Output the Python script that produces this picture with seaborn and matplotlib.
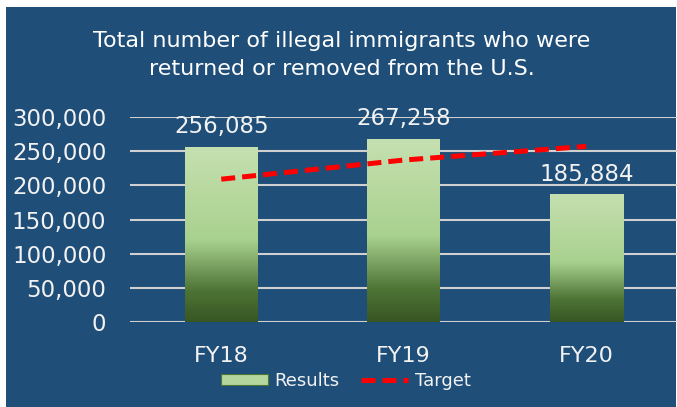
import numpy as np
import pandas as pd
import matplotlib
matplotlib.use('Agg')
import matplotlib.pyplot as plt
import seaborn as sns
from matplotlib.colors import LinearSegmentedColormap
from matplotlib.patches import Rectangle
from matplotlib.lines import Line2D
from matplotlib.ticker import FuncFormatter

# ---- data ----
categories = ['FY18', 'FY19', 'FY20']
results = [256085, 267258, 185884]
target = [209000, 237000, 257000]
y_ticks = [0, 50000, 100000, 150000, 200000, 250000, 300000]
title_text = "Total number of illegal immigrants who were\nreturned or removed from the U.S."

BG = '#1F4E79'
TXT = '#F2F2F2'
GRID = '#D0D0D0'

sns.set_theme(style='white')
plt.rcParams['font.family'] = ['DejaVu Sans']

W, H = 677, 407
fig = plt.figure(figsize=(W / 100, H / 100), dpi=100)
fig.patch.set_facecolor('white')
fig.patches.append(Rectangle((6 / W, 0), (676 - 6) / W, 1 - 7 / H,
                             transform=fig.transFigure, facecolor=BG,
                             edgecolor='none', zorder=-10))

ax = fig.add_axes([130 / W, 1 - 322 / H, 547.5 / W, 205 / H])
ax.set_facecolor('none')
ax.set_zorder(1)

df = pd.DataFrame({'Year': categories, 'Results': results})
sns.barplot(data=df, x='Year', y='Results', ax=ax, width=0.4,
            color='#A9D18E', saturation=1, zorder=2)

cmap = LinearSegmentedColormap.from_list(
    'g', [(0.0, '#375623'), (0.18, '#4E7436'), (0.47, '#A9D18E'), (1.0, '#C5E0B0')])
grad = np.linspace(0, 1, 256).reshape(-1, 1)
for p in ax.patches:
    x0, w, h = p.get_x(), p.get_width(), p.get_height()
    ax.imshow(grad, extent=[x0, x0 + w, 0, h], aspect='auto', cmap=cmap,
              origin='lower', zorder=2.5, interpolation='bicubic')
    p.set_facecolor('none')
    p.set_edgecolor('none')

sns.lineplot(x=np.arange(len(categories)), y=target, ax=ax, color='#FF0000',
             linewidth=3.6, zorder=4)
ax.lines[-1].set_dashes([2.8, 1.4])
ax.lines[-1].set_solid_capstyle('butt')

for i, v in enumerate(results):
    ax.text(i, v + 20500, f'{v:,}', ha='center', va='baseline',
            fontsize=16.5, color=TXT, zorder=5)

ax.set_xlim(-0.5, 2.5)
ax.set_ylim(0, 300000)
ax.set_yticks(y_ticks)
ax.yaxis.set_major_formatter(FuncFormatter(lambda v, _: f'{int(v):,}'))
ax.yaxis.grid(True, color=GRID, linewidth=1.5, zorder=1)
ax.set_axisbelow(True)
for s in ax.spines.values():
    s.set_visible(False)
ax.tick_params(axis='y', length=0, pad=17, labelsize=16.5, labelcolor=TXT)
ax.tick_params(axis='x', length=0, pad=17, labelsize=16, labelcolor=TXT)
ax.set_xlabel('')
ax.set_ylabel('')

fig.text(0.505, 1 - 55 / H, title_text, ha='center', va='center',
         fontsize=16, color='white', linespacing=1.55)

handles = [Rectangle((0, 0), 1, 1, facecolor='#B5D69C', edgecolor='#4E7436', linewidth=0.8),
           Line2D([0], [0], color='#FF0000', linewidth=3.6, dashes=[2.8, 1.4])]
leg = fig.legend(handles, ['Results', 'Target'], loc='center',
                 bbox_to_anchor=(346 / W, 1 - 381 / H), ncol=2, frameon=False,
                 fontsize=13, handlelength=2.6, handleheight=0.55,
                 handletextpad=0.35, columnspacing=1.2)
for t in leg.get_texts():
    t.set_color(TXT)

fig.savefig('out.png', dpi=100, facecolor=fig.get_facecolor())
